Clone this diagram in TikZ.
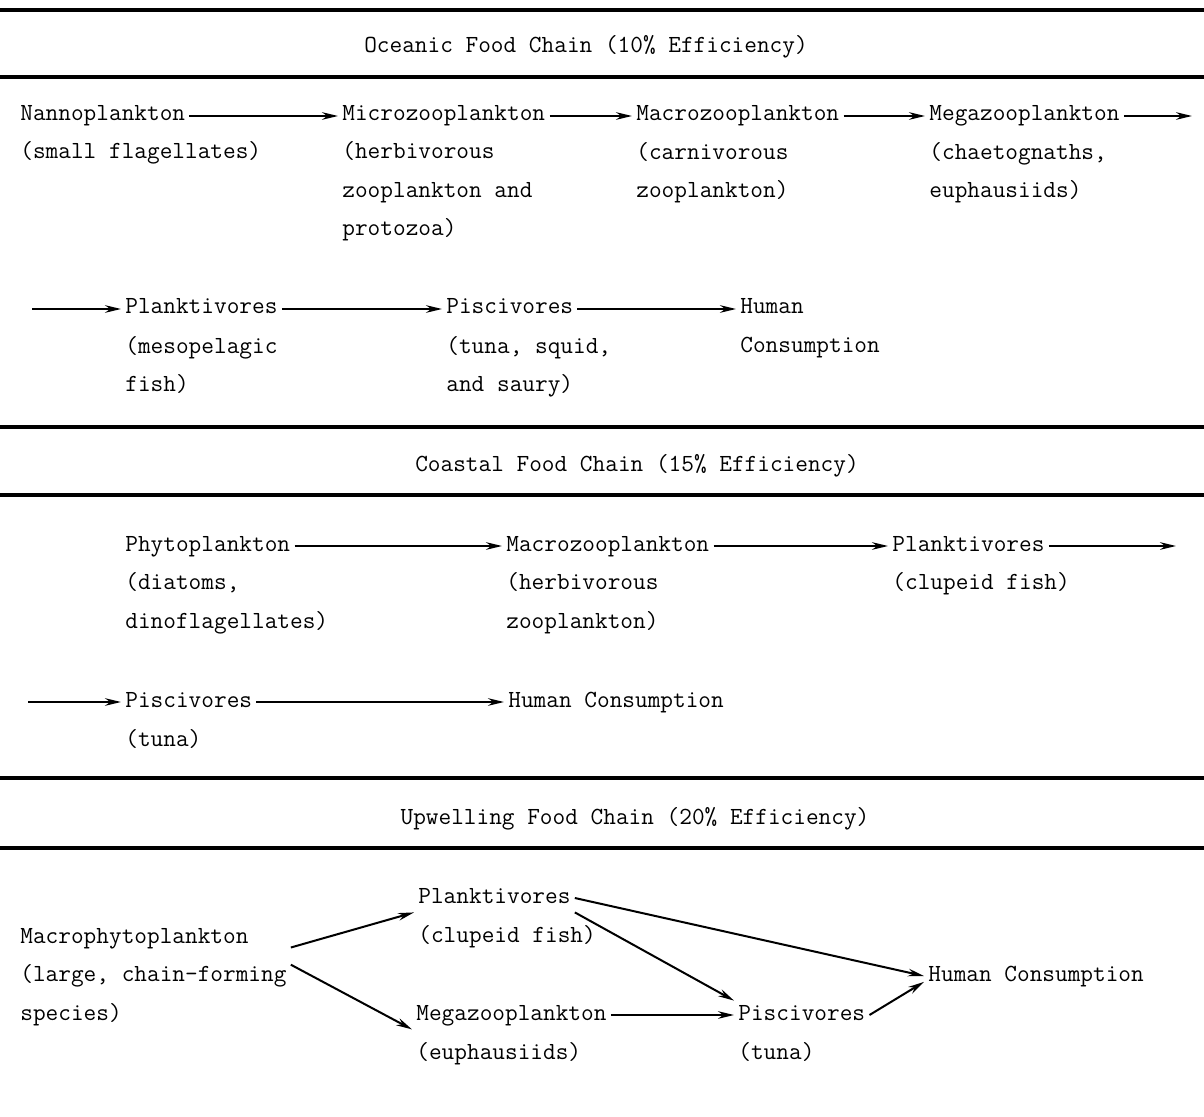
\documentclass[tikz,border=0pt]{standalone}
\usetikzlibrary{arrows.meta}

\begin{document}
\begin{tikzpicture}[x=0.5pt, y=-0.5pt,
    every node/.style={font=\fontsize{12.3}{19.25}\selectfont\ttfamily, inner sep=2pt},
    org/.style={anchor=base west, text height=7.5pt, text depth=2.5pt},
    note/.style={anchor=base west, align=left},
    head/.style={anchor=base},
    rulebar/.style={line width=1.6pt},
    feed/.style={-{Stealth[length=8pt,width=3.8pt]}, line width=1pt}]
    \useasboundingbox (0,0) rectangle (1204,1117);
    % Rules
    \foreach \y in {10,77,427,495,778,848}
        \draw[rulebar] (0,\y) -- (1204,\y);
    % Oceanic (notes sit on the baseline of their last line)
    \node[head] (oceanic) at (586,53) {Oceanic Food Chain (10\% Efficiency)};
    \node[org] (nanno) at (16,121) {Nannoplankton};
    \node[note] (nannod) at (16,159) {(small flagellates)};
    \node[org] (micro) at (338,121) {Microzooplankton};
    \node[note] (microd) at (338,236) {(herbivorous\\zooplankton and\\protozoa)};
    \node[org] (macro) at (632,121) {Macrozooplankton};
    \node[note] (macrod) at (632,198) {(carnivorous\\zooplankton)};
    \node[org] (mega) at (925,121) {Megazooplankton};
    \node[note] (megad) at (925,198) {(chaetognaths,\\euphausiids)};
    \coordinate (ocnout) at (1192,116);
    \coordinate (ocnin) at (32,309);
    \node[org] (plankt) at (121,314) {Planktivores};
    \node[note] (planktd) at (121,392) {(mesopelagic\\fish)};
    \node[org] (pisc) at (442,314) {Piscivores};
    \node[note] (piscd) at (442,392) {(tuna, squid,\\and saury)};
    \node[org] (human) at (736,314) {Human};
    \node[note] (humand) at (736,353) {Consumption};
    \draw[feed] (nanno) -- (micro);
    \draw[feed] (micro) -- (macro);
    \draw[feed] (macro) -- (mega);
    \draw[feed] (mega) -- (ocnout);
    \draw[feed] (ocnin) -- (plankt);
    \draw[feed] (plankt) -- (pisc);
    \draw[feed] (pisc) -- (human);
    % Coastal
    \node[head] (coastal) at (637,471) {Coastal Food Chain (15\% Efficiency)};
    \node[org] (phyto) at (121,551) {Phytoplankton};
    \node[note] (phytod) at (121,628) {(diatoms,\\dinoflagellates)};
    \node[org] (cmacro) at (502,551) {Macrozooplankton};
    \node[note] (cmacrod) at (502,628) {(herbivorous\\zooplankton)};
    \node[org] (cplankt) at (888,551) {Planktivores};
    \node[note] (cplanktd) at (888,589) {(clupeid fish)};
    \coordinate (cstout) at (1176,546);
    \coordinate (cstin) at (28,702);
    \node[org] (cpisc) at (121,707) {Piscivores};
    \node[note] (cpiscd) at (121,746) {(tuna)};
    \node[org] (chuman) at (504,707) {Human Consumption};
    \draw[feed] (phyto) -- (cmacro);
    \draw[feed] (cmacro) -- (cplankt);
    \draw[feed] (cplankt) -- (cstout);
    \draw[feed] (cstin) -- (cpisc);
    \draw[feed] (cpisc) -- (chuman);
    % Upwelling
    \node[head] (upwelling) at (635,824) {Upwelling Food Chain (20\% Efficiency)};
    \node[note] (macph) at (16,1020) {Macrophytoplankton\\(large, chain-forming\\species)};
    \node[org] (uplankt) at (414,903) {Planktivores};
    \node[note] (uplanktd) at (414,942) {(clupeid fish)};
    \node[org] (umega) at (412,1020) {Megazooplankton};
    \node[note] (umegad) at (412,1059) {(euphausiids)};
    \node[org] (upisc) at (734,1020) {Piscivores};
    \node[note] (upiscd) at (734,1059) {(tuna)};
    \node[org] (uhuman) at (924,981) {Human Consumption};
    \draw[feed] (macph.12) -- (uplankt.south west);
    \draw[feed] (macph.5) -- (umega.south west);
    \draw[feed] (uplankt.east) -- (uhuman.west);
    \draw[feed] (uplankt.south east) -- (upisc.north west);
    \draw[feed] (umega) -- (upisc);
    \draw[feed] (upisc.east) -- (uhuman.183);
\end{tikzpicture}
\end{document}
